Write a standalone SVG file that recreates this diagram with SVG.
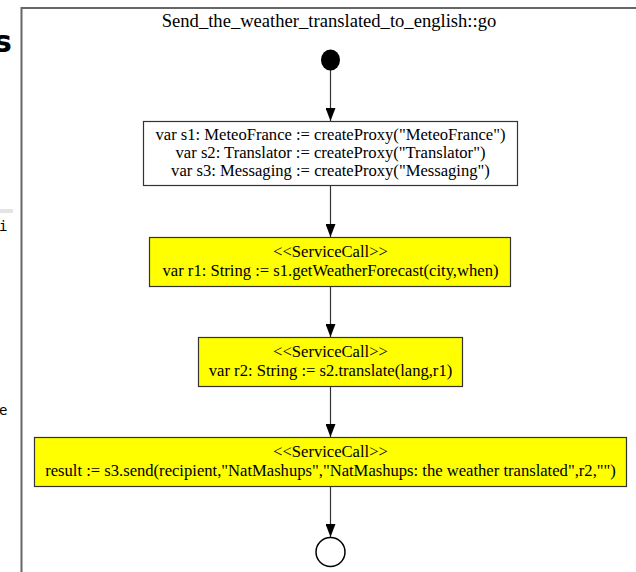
<svg xmlns="http://www.w3.org/2000/svg" width="636" height="572" viewBox="0 0 636 572">
  <style>
    text { font-family: "Liberation Serif", "Times New Roman", serif; font-size: 16.6px; fill: #000; text-anchor: middle; }
    .title { font-size: 18.6px; }
    .action { stroke: #333; stroke-width: 1.2; }
    .plain { fill: #fff; }
    .call { fill: #ffff00; }
    .edge { stroke: #333; stroke-width: 1.2; fill: none; }
    .frame { fill: none; stroke: #666; stroke-width: 2; }
    .side { font-family: "DejaVu Sans", sans-serif; font-size: 30px; font-weight: bold; text-anchor: start; }
    .mono { font-family: "DejaVu Sans Mono", monospace; font-size: 14px; text-anchor: start; }
  </style>
  <defs>
    <marker id="arrowhead" viewBox="0 0 13 10" refX="13" refY="5" markerWidth="13" markerHeight="10" orient="auto" markerUnits="userSpaceOnUse">
      <path d="M0,0 L13,5 L0,10 Z" fill="#000"/>
    </marker>
  </defs>

  <rect width="636" height="572" fill="#fff"/>

  <!-- neighbouring window edge on the left -->
  <g id="side-panel">
    <rect x="0" y="209" width="13" height="4" fill="#e4e4e4"/>
    <text class="side" x="-6" y="52">s</text>
    <text class="mono" x="-1" y="231">i</text>
    <text class="mono" x="-1" y="415">e</text>
  </g>

  <!-- activity frame -->
  <g id="frame">
    <path class="frame" d="M21.5,580 L21.5,8 L640,8"/>
    <text class="title" x="329" y="27">Send_the_weather_translated_to_english::go</text>
  </g>

  <!-- control flow -->
  <g id="edges">
    <line class="edge" x1="330.5" y1="70" x2="330.5" y2="121" marker-end="url(#arrowhead)"/>
    <line class="edge" x1="330.5" y1="186" x2="330.5" y2="237" marker-end="url(#arrowhead)"/>
    <line class="edge" x1="330.5" y1="287" x2="330.5" y2="337" marker-end="url(#arrowhead)"/>
    <line class="edge" x1="330.5" y1="387" x2="330.5" y2="437" marker-end="url(#arrowhead)"/>
    <line class="edge" x1="330.5" y1="487" x2="330.5" y2="537" marker-end="url(#arrowhead)"/>
  </g>

  <g id="initial">
    <ellipse cx="330.5" cy="60" rx="9.5" ry="10.5" fill="#000"/>
  </g>

  <g id="create-proxies">
    <rect class="action plain" x="143.5" y="121.5" width="374" height="64"/>
    <text x="330.5" y="140">var s1: MeteoFrance := createProxy("MeteoFrance")</text>
    <text x="330.5" y="158">var s2: Translator := createProxy("Translator")</text>
    <text x="330.5" y="176">var s3: Messaging := createProxy("Messaging")</text>
  </g>

  <g id="get-forecast">
    <rect class="action call" x="149.5" y="237.5" width="361" height="49"/>
    <text x="330.5" y="257">&lt;&lt;ServiceCall&gt;&gt;</text>
    <text x="330.5" y="276">var r1: String := s1.getWeatherForecast(city,when)</text>
  </g>

  <g id="translate">
    <rect class="action call" x="198.5" y="337.5" width="264" height="49"/>
    <text x="330.5" y="357">&lt;&lt;ServiceCall&gt;&gt;</text>
    <text x="330.5" y="376">var r2: String := s2.translate(lang,r1)</text>
  </g>

  <g id="send">
    <rect class="action call" x="34.5" y="437.5" width="592" height="49"/>
    <text x="330.5" y="457">&lt;&lt;ServiceCall&gt;&gt;</text>
    <text x="330.5" y="476">result := s3.send(recipient,"NatMashups","NatMashups: the weather translated",r2,"")</text>
  </g>

  <g id="final">
    <circle cx="330.5" cy="552" r="14.5" fill="#fff" stroke="#000" stroke-width="1.5"/>
  </g>
</svg>
